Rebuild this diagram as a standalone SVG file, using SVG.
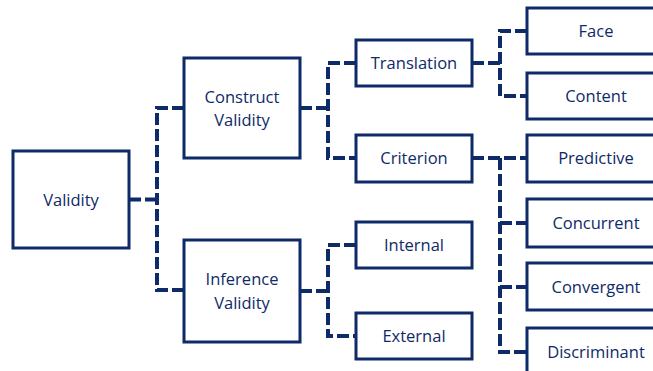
<svg xmlns="http://www.w3.org/2000/svg" width="653" height="371" viewBox="0 0 653 371">
<style>
.box{fill:#fff;stroke:#0f2a68;stroke-width:3}
.lbl{font-family:"Open Sans","Noto Sans",sans-serif;font-size:16.5px;fill:#0f2a68;text-anchor:middle;dominant-baseline:central}
.con{fill:none;stroke:#0f2a68;stroke-width:4;stroke-dasharray:12 4}
</style>
<rect width="653" height="371" fill="#fff"/>
<g id="connectors">
<path class="con" d="M129,199.5 H157"/>
<path class="con" d="M184,108 H157 V290 H184"/>
<path class="con" d="M300,108 H328"/>
<path class="con" d="M356,63 H328 V158 H356"/>
<path class="con" d="M300,291 H328"/>
<path class="con" d="M356,245 H328 V336 H356"/>
<path class="con" d="M472,63 H500"/>
<path class="con" d="M527,31 H500 V96 H527"/>
<path class="con" d="M472,158 H527"/>
<path class="con" d="M500,158 V352 H527"/>
<path class="con" d="M500,223 H527"/>
<path class="con" d="M500,287 H527"/>
</g>
<g id="validity"><rect class="box" x="13" y="151" width="116" height="97"/><text class="lbl" x="71" y="199">Validity</text></g>
<g id="construct"><rect class="box" x="184" y="58" width="116" height="100"/><text class="lbl" x="242" y="96">Construct</text><text class="lbl" x="242" y="119">Validity</text></g>
<g id="inference"><rect class="box" x="184" y="240" width="116" height="102"/><text class="lbl" x="242" y="278">Inference</text><text class="lbl" x="242" y="302">Validity</text></g>
<g id="translation"><rect class="box" x="356" y="40" width="116" height="46"/><text class="lbl" x="414" y="62">Translation</text></g>
<g id="criterion"><rect class="box" x="356" y="135" width="116" height="47"/><text class="lbl" x="414" y="157">Criterion</text></g>
<g id="internal"><rect class="box" x="356" y="222" width="116" height="46"/><text class="lbl" x="414" y="244">Internal</text></g>
<g id="external"><rect class="box" x="356" y="313" width="116" height="46"/><text class="lbl" x="414" y="335">External</text></g>
<g id="face"><rect class="box" x="527" y="8" width="138" height="46"/><text class="lbl" x="596" y="30">Face</text></g>
<g id="content"><rect class="box" x="527" y="73" width="138" height="46"/><text class="lbl" x="596" y="95">Content</text></g>
<g id="predictive"><rect class="box" x="527" y="135" width="138" height="47"/><text class="lbl" x="596" y="157">Predictive</text></g>
<g id="concurrent"><rect class="box" x="527" y="199" width="138" height="48"/><text class="lbl" x="596" y="222">Concurrent</text></g>
<g id="convergent"><rect class="box" x="527" y="263" width="138" height="47"/><text class="lbl" x="596" y="286">Convergent</text></g>
<g id="discriminant"><rect class="box" x="527" y="328" width="138" height="60"/><text class="lbl" x="596" y="351">Discriminant</text></g>
</svg>
